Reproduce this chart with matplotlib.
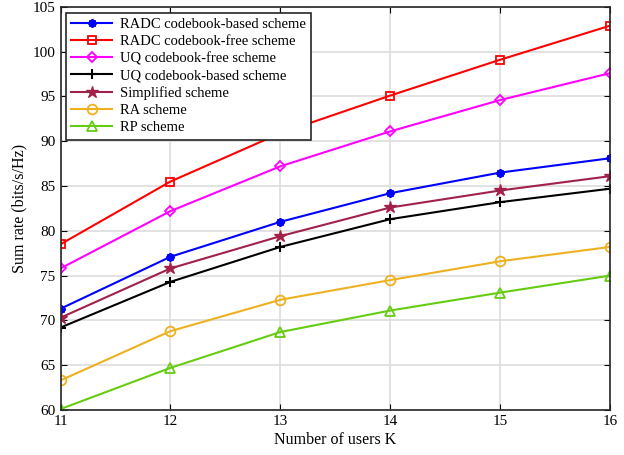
import numpy as np
import matplotlib.pyplot as plt

plt.rcParams['font.family'] = ['Liberation Serif', 'DejaVu Serif']
plt.rcParams['mathtext.fontset'] = 'stix'

users = [11, 12, 13, 14, 15, 16]

radc_based = [71.3, 77.1, 81.0, 84.2, 86.5, 88.1]
radc_free = [78.5, 85.5, 90.9, 95.1, 99.1, 102.9]
uq_free = [75.8, 82.2, 87.2, 91.1, 94.6, 97.6]
uq_based = [69.2, 74.3, 78.2, 81.3, 83.2, 84.7]
simplified = [70.3, 75.8, 79.4, 82.6, 84.5, 86.1]
ra = [63.3, 68.8, 72.3, 74.5, 76.6, 78.2]
rp = [60.1, 64.7, 68.7, 71.1, 73.1, 75.0]

fig = plt.figure(figsize=(6.24, 4.55), dpi=100)
ax = fig.add_axes([0.097, 0.099, 0.881, 0.886])

ax.plot(users, radc_based, color='#0000FF', marker=(8, 2, 0), ms=6, mew=1.5, lw=1.5, label='RADC codebook-based scheme')
ax.plot(users, radc_free, color='#FF0000', marker='s', ms=6, mfc='none', mew=1.3, lw=1.5, label='RADC codebook-free scheme')
ax.plot(users, uq_free, color='#FF00FF', marker='D', ms=5.5, mfc='none', mew=1.3, lw=1.5, label='UQ codebook-free scheme')
ax.plot(users, uq_based, color='black', marker='+', ms=7, mew=1.5, lw=1.5, label='UQ codebook-based scheme')
ax.plot(users, simplified, color='#A2214B', marker='*', ms=9, lw=1.5, label='Simplified scheme')
ax.plot(users, ra, color='#EDB120', marker='o', ms=7, mfc='none', mew=1.3, lw=1.5, label='RA scheme')
ax.plot(users, rp, color='#66CC11', marker='^', ms=7, mfc='none', mew=1.3, lw=1.5, label='RP scheme')

ax.set_xlim(11, 16)
ax.set_ylim(60, 105)
ax.set_xticks(users)
ax.set_yticks(np.arange(60, 106, 5))
ax.grid(True, color='#DDDDDD', lw=1.2)
ax.set_axisbelow(True)
ax.tick_params(direction='in', top=True, right=True, labelsize=11, length=4)
for s in ax.spines.values():
    s.set_color('#262626')
    s.set_linewidth(1.2)

ax.set_xlabel('Number of users K', fontsize=11.5, labelpad=3)
ax.set_ylabel('Sum rate (bits/s/Hz)', fontsize=11.5, labelpad=4)

leg = ax.legend(loc='upper left', fontsize=10.5, fancybox=False, framealpha=1,
                edgecolor='#262626', handlelength=2.8, borderpad=0.35,
                labelspacing=0.27, handletextpad=0.5, borderaxespad=0.4)
leg.get_frame().set_linewidth(1.2)

fig.savefig('out.png', dpi=100)
